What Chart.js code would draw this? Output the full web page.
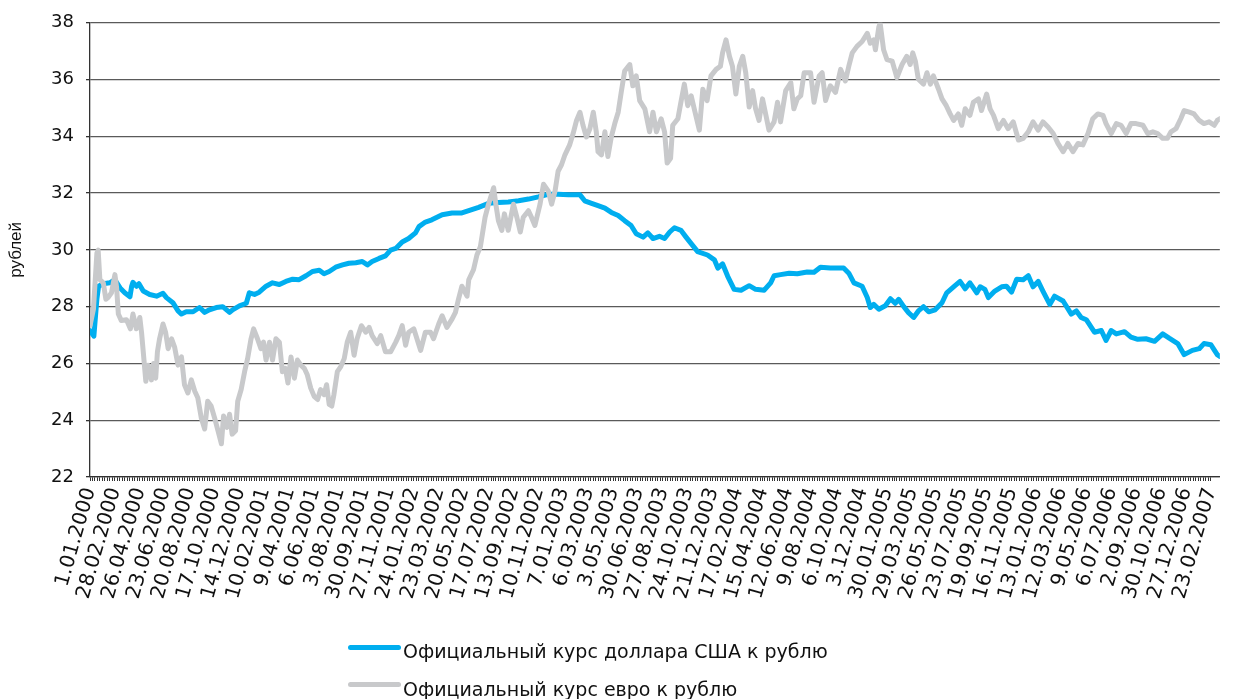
<!DOCTYPE html>
<html>
<head>
<meta charset="utf-8">
<script src="https://cdn.jsdelivr.net/npm/chart.js@4.4.1/dist/chart.umd.min.js"></script>
<style>
  html, body { margin: 0; padding: 0; background: #fff; }
  #wrap { position: relative; width: 1238px; height: 699px; }
  #c { position: absolute; left: 0; top: 0; }
  .leg { position: absolute; left: 348px; height: 26px; font: 19px "DejaVu Sans", sans-serif; color: #111; white-space: nowrap; }
  .leg i { position: absolute; left: 0; width: 53px; height: 5px; border-radius: 3px; }
  .leg span { position: absolute; left: 55px; top: 0; line-height: 24px; }
</style>
</head>
<body>
<div id="wrap">
  <canvas id="c" width="1238" height="699"></canvas>
  <div class="leg" style="top:639px"><i style="background:#00aeef;top:6px"></i><span>Официальный курс доллара США к рублю</span></div>
  <div class="leg" style="top:677px"><i style="background:#c8c9cb;top:5px"></i><span>Официальный курс евро к рублю</span></div>
</div>
<script>
// ── Подписи оси X (шаг 58 дней) ───────────────────────────────
const dateLabels = [
  '1.01.2000','28.02.2000','26.04.2000','23.06.2000','20.08.2000','17.10.2000','14.12.2000',
  '10.02.2001','9.04.2001','6.06.2001','3.08.2001','30.09.2001','27.11.2001',
  '24.01.2002','23.03.2002','20.05.2002','17.07.2002','13.09.2002','10.11.2002',
  '7.01.2003','6.03.2003','3.05.2003','30.06.2003','27.08.2003','24.10.2003','21.12.2003',
  '17.02.2004','15.04.2004','12.06.2004','9.08.2004','6.10.2004','3.12.2004',
  '30.01.2005','29.03.2005','26.05.2005','23.07.2005','19.09.2005','16.11.2005',
  '13.01.2006','12.03.2006','9.05.2006','6.07.2006','2.09.2006','30.10.2006','27.12.2006',
  '23.02.2007'
];
const yTicks = [22, 24, 26, 28, 30, 32, 34, 36, 38];

// ── Курс доллара: день от 1.01.2000 / руб. ────────────────────
const usdDays = [
  0,9,16,20,31,46,58,70,81,93,
  97,100,108,114,124,139,155,170,178,193,
  205,213,224,240,255,267,278,294,309,325,
  332,348,364,371,383,394,410,425,441,456,
  472,487,503,518,534,545,557,572,588,603,
  619,634,646,657,673,688,700,712,727,742,
  758,766,781,796,820,843,866,882,905,928,
  951,974,998,1021,1044,1067,1090,1114,1141,1152,
  1168,1183,1199,1214,1230,1245,1260,1272,1288,1299,
  1311,1326,1338,1350,1361,1376,1388,1400,1415,1438,
  1454,1462,1473,1485,1500,1516,1535,1550,1570,1585,
  1593,1608,1628,1647,1670,1686,1701,1724,1755,1767,
  1779,1798,1810,1817,1825,1837,1852,1864,1875,1883,
  1895,1906,1918,1929,1941,1953,1968,1984,1995,2011,
  2026,2038,2049,2065,2073,2084,2092,2107,2123,2134,
  2146,2158,2173,2185,2196,2208,2219,2235,2246,2266,
  2285,2297,2308,2320,2339,2355,2366,2378,2390,2409,
  2424,2440,2459,2479,2498,2513,2533,2548,2567,2583,
  2594,2610,2625,2631
];
const usdRates = [
  27.16,26.96,28.26,28.72,28.81,28.84,28.95,28.66,28.49,28.35,
  28.72,28.86,28.72,28.81,28.55,28.43,28.37,28.47,28.32,28.14,
  27.85,27.74,27.82,27.82,27.97,27.80,27.89,27.97,28.00,27.80,
  27.89,28.03,28.12,28.49,28.43,28.51,28.72,28.84,28.78,28.89,
  28.97,28.95,29.09,29.24,29.28,29.16,29.24,29.39,29.47,29.53,
  29.55,29.59,29.47,29.59,29.70,29.79,29.99,30.05,30.28,30.40,
  30.60,30.82,30.98,31.06,31.24,31.30,31.30,31.38,31.50,31.64,
  31.67,31.69,31.73,31.79,31.87,31.96,31.96,31.94,31.94,31.73,
  31.64,31.56,31.47,31.32,31.21,31.03,30.86,30.57,30.45,30.60,
  30.40,30.48,30.40,30.63,30.78,30.69,30.45,30.22,29.94,29.82,
  29.65,29.36,29.51,29.07,28.61,28.58,28.74,28.61,28.58,28.84,
  29.09,29.13,29.18,29.16,29.22,29.21,29.39,29.36,29.36,29.18,
  28.84,28.72,28.32,27.97,28.08,27.91,28.03,28.28,28.12,28.26,
  28.00,27.79,27.62,27.85,28.00,27.82,27.89,28.14,28.49,28.70,
  28.89,28.63,28.84,28.49,28.70,28.61,28.32,28.55,28.70,28.72,
  28.51,28.97,28.95,29.09,28.70,28.89,28.55,28.08,28.37,28.20,
  27.74,27.85,27.62,27.54,27.10,27.16,26.81,27.16,27.04,27.12,
  26.93,26.85,26.87,26.78,27.04,26.89,26.70,26.31,26.46,26.52,
  26.70,26.66,26.31,26.25
];

// ── Курс евро ─────────────────────────────────────────────────
const eurDays = [
  0,8,16,19,23,31,37,42,50,58,
  62,66,73,85,94,100,108,116,120,124,
  130,135,143,148,153,157,162,170,176,182,
  190,197,205,213,220,228,236,244,251,259,
  267,274,282,290,298,306,311,319,325,331,
  339,344,352,360,367,375,381,390,398,404,
  410,418,425,433,441,448,455,461,468,476,
  483,491,499,506,514,522,530,537,545,551,
  557,563,568,576,584,592,599,607,615,622,
  632,642,650,657,669,677,688,700,712,719,
  727,735,742,754,770,781,793,800,812,820,
  831,843,851,858,866,878,882,893,901,909,
  920,928,940,945,951,959,965,974,986,994,
  1002,1009,1021,1028,1036,1048,1056,1067,1075,1083,
  1090,1098,1106,1117,1125,1133,1141,1148,1156,1164,
  1172,1179,1183,1191,1199,1206,1214,1222,1230,1237,
  1245,1257,1264,1272,1280,1292,1303,1311,1319,1330,
  1338,1344,1352,1357,1369,1376,1384,1392,1400,1408,
  1419,1427,1437,1446,1458,1468,1473,1481,1489,1496,
  1504,1512,1520,1527,1535,1543,1550,1558,1566,1574,
  1581,1593,1601,1608,1620,1632,1639,1647,1655,1663,
  1678,1686,1698,1705,1713,1724,1736,1748,1759,1767,
  1775,1786,1798,1810,1817,1825,1829,1837,1840,1848,
  1856,1868,1879,1891,1902,1910,1916,1922,1929,1941,
  1949,1957,1964,1976,1984,1994,2003,2011,2022,2030,
  2038,2049,2057,2069,2076,2088,2096,2104,2115,2127,
  2138,2150,2162,2173,2185,2196,2208,2219,2231,2243,
  2254,2266,2277,2289,2301,2312,2324,2335,2347,2359,
  2366,2378,2390,2401,2413,2424,2436,2452,2463,2475,
  2486,2498,2509,2517,2529,2540,2548,2560,2571,2583,
  2594,2606,2618,2625,2631
];
const eurRates = [
  27.33,27.91,29.88,29.99,28.95,28.84,28.26,28.32,28.49,29.13,
  28.66,27.74,27.51,27.54,27.22,27.74,27.22,27.62,27.10,26.41,
  25.37,25.94,25.42,26.00,25.48,26.41,26.87,27.39,27.10,26.52,
  26.87,26.58,25.94,26.23,25.25,24.96,25.42,25.02,24.79,24.09,
  23.69,24.67,24.50,24.09,23.63,23.17,24.15,23.75,24.21,23.51,
  23.63,24.67,25.08,25.71,26.17,26.87,27.22,26.87,26.52,26.75,
  26.12,26.75,26.12,26.87,26.75,25.71,25.83,25.31,26.23,25.48,
  26.12,25.94,25.83,25.60,25.13,24.84,24.73,25.08,24.90,25.25,
  24.56,24.50,24.90,25.71,25.89,26.17,26.75,27.10,26.29,26.87,
  27.33,27.10,27.27,26.98,26.70,26.98,26.41,26.41,26.75,26.98,
  27.33,26.64,27.10,27.22,26.46,27.10,27.10,26.87,27.39,27.68,
  27.27,27.56,27.80,28.26,28.72,28.37,28.95,29.30,29.82,30.11,
  31.15,31.61,32.19,31.61,31.03,30.69,31.27,30.69,31.61,31.15,
  30.63,31.15,31.38,31.15,30.86,31.61,32.31,32.08,31.61,32.08,
  32.77,33.00,33.35,33.70,34.10,34.56,34.85,34.39,33.98,34.27,
  34.85,34.16,33.46,33.35,34.16,33.29,33.98,34.45,34.85,35.55,
  36.30,36.53,35.78,36.13,35.26,34.97,34.16,34.85,34.16,34.62,
  34.16,33.06,33.23,34.39,34.62,35.20,35.84,35.08,35.43,34.91,
  34.22,35.66,35.26,36.13,36.36,36.47,36.94,37.40,36.82,36.47,
  35.49,36.47,36.82,36.24,35.03,35.61,34.97,34.56,35.32,34.74,
  34.22,34.51,35.20,34.51,35.61,35.89,34.97,35.32,35.43,36.24,
  36.24,35.20,36.13,36.24,35.26,35.78,35.55,36.36,35.95,36.47,
  36.94,37.17,37.34,37.63,37.28,37.40,37.05,37.86,37.98,37.05,
  36.70,36.65,36.07,36.53,36.82,36.53,36.94,36.65,36.01,35.84,
  36.24,35.84,36.13,35.66,35.32,35.08,34.79,34.56,34.79,34.39,
  34.97,34.74,35.20,35.32,34.91,35.49,34.97,34.74,34.27,34.56,
  34.27,34.51,33.87,33.93,34.16,34.51,34.22,34.51,34.33,34.10,
  33.75,33.46,33.75,33.46,33.75,33.70,34.10,34.62,34.79,34.74,
  34.45,34.10,34.45,34.39,34.10,34.45,34.45,34.39,34.10,34.16,
  34.10,33.93,33.93,34.16,34.27,34.62,34.91,34.85,34.79,34.56,
  34.45,34.51,34.39,34.56,34.62
];

// ── Позиции делений из дат подписей ───────────────────────────
const T0 = Date.UTC(2000, 0, 1);
const dayOf = s => { const [d, m, y] = s.split('.').map(Number); return Math.round((Date.UTC(y, m - 1, d) - T0) / 864e5); };
const labelDays = dateLabels.map(dayOf);
const labelByDay = {};
labelDays.forEach((d, i) => { labelByDay[d] = dateLabels[i]; });
const xTickValues = [];
labelDays.forEach((d, i) => {
  xTickValues.push(d);
  const next = labelDays[i + 1];
  if (next !== undefined) for (let k = 1; k < 10; k++) xTickValues.push(d + (next - d) * k / 10);
});
const xMax = usdDays[usdDays.length - 1];

const usdPoints = usdDays.map((d, i) => ({ x: d, y: usdRates[i] }));
const eurPoints = eurDays.map((d, i) => ({ x: d, y: eurRates[i] }));

const FONT = 'DejaVu Sans';
new Chart(document.getElementById('c'), {
  type: 'line',
  data: {
    datasets: [
      { label: 'Официальный курс евро к рублю', data: eurPoints, borderColor: '#c8c9cb', order: 0,
        borderWidth: 5, pointRadius: 0, tension: 0, borderJoinStyle: 'round', borderCapStyle: 'round' },
      { label: 'Официальный курс доллара США к рублю', data: usdPoints, borderColor: '#00aeef', order: 1,
        borderWidth: 5, pointRadius: 0, tension: 0, borderJoinStyle: 'round', borderCapStyle: 'round' },
    ]
  },
  options: {
    responsive: false, animation: false,
    layout: { padding: { left: 0, right: 14, top: 16, bottom: 82 } },
    plugins: { legend: { display: false }, tooltip: { enabled: false } },
    scales: {
      x: {
        type: 'linear', min: 0, max: xMax,
        afterBuildTicks: s => { s.ticks = xTickValues.map(v => ({ value: v })); },
        afterFit: s => { s.height = 140; },
        ticks: { autoSkip: false, minRotation: 74, maxRotation: 74, padding: 4, color: '#111',
          font: { family: FONT, size: 20 },
          callback: v => labelByDay[v] || '' },
        grid: { drawOnChartArea: false, tickLength: 4, tickColor: '#333', tickWidth: 1 },
        border: { color: '#333', width: 1.3 },
      },
      y: {
        min: 22, max: 38,
        afterBuildTicks: s => { s.ticks = yTicks.map(v => ({ value: v })); },
        afterFit: s => { s.width = 90; },
        ticks: { color: '#111', padding: 12, font: { family: FONT, size: 18 } },
        grid: { color: '#5a5a5a', lineWidth: 1.3, tickLength: 4, tickColor: '#333' },
        border: { color: '#333', width: 1.3 },
        title: { display: true, text: 'рублей', color: '#111', padding: { top: 6 },
          font: { family: 'Liberation Sans', size: 17 } },
      }
    }
  }
});
</script>
</body>
</html>
